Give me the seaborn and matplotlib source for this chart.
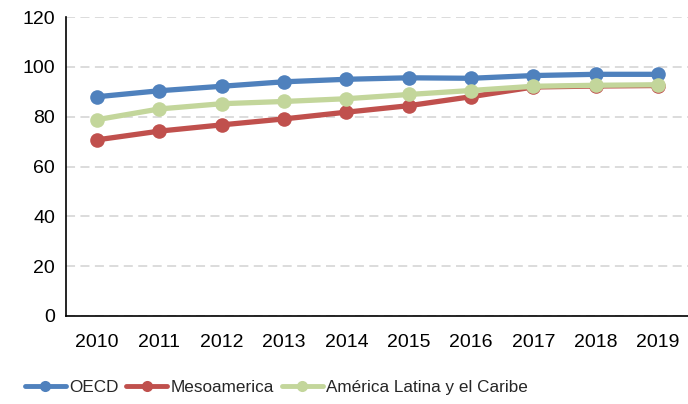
import numpy as np
import pandas as pd
import matplotlib
matplotlib.use('Agg')
import matplotlib.pyplot as plt
import seaborn as sns

years = [2010, 2011, 2012, 2013, 2014, 2015, 2016, 2017, 2018, 2019]
oecd = [88.0, 90.4, 92.2, 94.0, 95.0, 95.6, 95.4, 96.5, 97.0, 97.0]
meso = [70.7, 74.2, 76.7, 79.1, 81.8, 84.4, 88.0, 91.9, 92.3, 92.5]
alc = [78.8, 83.1, 85.2, 86.1, 87.2, 88.9, 90.5, 92.2, 92.6, 92.8]
series = ['OECD', 'Mesoamerica', 'América Latina y el Caribe']
colors = ['#4F81BD', '#C0504D', '#C3D69B']

df = pd.DataFrame({
    'year': [str(y) for y in years] * 3,
    'value': oecd + meso + alc,
    'serie': [series[0]] * 10 + [series[1]] * 10 + [series[2]] * 10,
})

sns.set_theme(style='white')
plt.rcParams['font.family'] = ['Liberation Sans', 'DejaVu Sans']

fig = plt.figure(figsize=(6.88, 4.04), dpi=100)
ax = fig.add_axes([66 / 688, 1 - 316 / 404, 623 / 688, 299 / 404])

sns.lineplot(data=df, x='year', y='value', hue='serie', hue_order=series,
             palette=colors, marker='o', markersize=10.5, linewidth=3.8,
             markeredgewidth=0, ax=ax, sort=False, clip_on=False, zorder=3)

ax.set_ylim(0, 120)
ax.set_yticks(range(0, 121, 20))
ax.set_xlim(-0.5, 9.5)
ax.yaxis.grid(True, color='#D9D9D9', linestyle=(0, (5, 3)), linewidth=1.3)
ax.set_axisbelow(True)
for s in ['top', 'right']:
    ax.spines[s].set_visible(False)
for s in ['left', 'bottom']:
    ax.spines[s].set_color('black')
    ax.spines[s].set_linewidth(1.2)
ax.tick_params(axis='both', length=0, labelsize=14, colors='black', pad=8)
ax.tick_params(axis='x', pad=13)
ax.set_xlabel('')
ax.set_ylabel('')

leg = ax.legend(loc='center', bbox_to_anchor=(0.338, -0.24), ncol=3, frameon=False,
                fontsize=12.3, handlelength=2.4, handletextpad=0.2, columnspacing=0.45,
                borderaxespad=0)
for h in leg.legend_handles:
    h.set_markersize(8)
    h.set_linewidth(3.5)

fig.savefig('out.png', dpi=100)
